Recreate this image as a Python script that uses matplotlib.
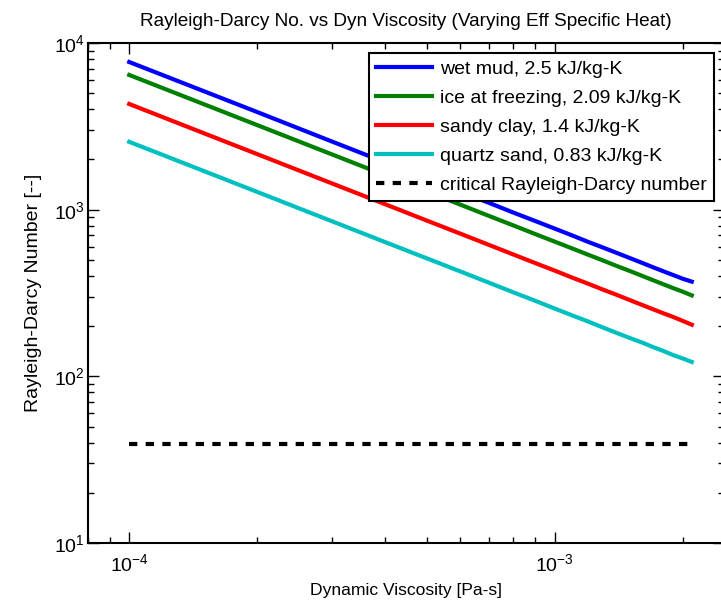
import numpy as np
import matplotlib
matplotlib.use("Agg")
import matplotlib.pyplot as plt

plt.rcParams['font.family'] = ['Liberation Sans', 'DejaVu Sans']
plt.rcParams['mathtext.default'] = 'regular'
plt.rcParams['lines.scale_dashes'] = False

# dynamic viscosity [Pa-s]
mu = [1e-4, 2e-4, 3e-4, 4e-4, 5e-4, 6e-4, 7e-4, 8e-4, 9e-4, 1e-3, 1.1e-3,
      1.2e-3, 1.3e-3, 1.4e-3, 1.5e-3, 1.6e-3, 1.7e-3, 1.8e-3, 1.9e-3, 2e-3, 2.1e-3]

# Rayleigh-Darcy number
ra_wet_mud = [7690, 3850, 2560, 1920, 1540, 1280, 1100, 960, 855, 770, 700,
              640, 592, 550, 513, 481, 452, 427, 405, 385, 370]
ra_ice = [6430, 3215, 2143, 1607, 1286, 1072, 918, 804, 714, 643, 585,
          536, 495, 459, 429, 402, 378, 357, 338, 322, 306]
ra_sandy_clay = [4306, 2153, 1435, 1077, 861, 718, 615, 538, 478, 431, 391,
                 359, 331, 308, 287, 269, 253, 239, 227, 215, 204]
ra_quartz = [2553, 1277, 851, 638, 511, 426, 365, 319, 284, 255, 232,
             213, 196, 182, 170, 160, 150, 142, 134, 128, 122]
mu_crit = [1e-4, 2.1e-3]
ra_crit = [39.48, 39.48]

labels = ['wet mud, 2.5 kJ/kg-K', 'ice at freezing, 2.09 kJ/kg-K',
          'sandy clay, 1.4 kJ/kg-K', 'quartz sand, 0.83 kJ/kg-K',
          'critical Rayleigh-Darcy number']

fig = plt.figure(figsize=(7.21, 6.04), dpi=100)
ax = fig.add_axes([88/721, 61/604, 636/721, 500/604])

ax.loglog(mu, ra_wet_mud, color='b', lw=3, label=labels[0])
ax.loglog(mu, ra_ice, color='g', lw=3, label=labels[1])
ax.loglog(mu, ra_sandy_clay, color='r', lw=3, label=labels[2])
ax.loglog(mu, ra_quartz, color='c', lw=3, label=labels[3])
ax.loglog(mu_crit, ra_crit, color='k', lw=3, linestyle=(0, (6, 6)),
          label=labels[4])

ax.set_xlim(8e-5, 2.5e-3)
ax.set_ylim(10, 1e4)
ax.tick_params(which='both', direction='in', top=True, right=True,
               labelsize=14)
ax.tick_params(axis='x', which='both', pad=7)
ax.tick_params(axis='y', which='both', pad=2)
ax.tick_params(which='major', length=8, width=1)
ax.tick_params(which='minor', length=4, width=1)
for s in ax.spines.values():
    s.set_linewidth(1.5)

ax.set_title('Rayleigh-Darcy No. vs Dyn Viscosity (Varying Eff Specific Heat)',
             fontsize=13.7, pad=12)
ax.set_xlabel('Dynamic Viscosity [Pa-s]', fontsize=12.6, labelpad=6)
ax.set_ylabel('Rayleigh-Darcy Number [--]', fontsize=14, labelpad=9)

leg = ax.legend(loc='upper right', fontsize=14, handlelength=2.85,
                handletextpad=0.4, fancybox=False, framealpha=1,
                edgecolor='k', borderaxespad=0.5, labelspacing=0.58,
                borderpad=0.4)
leg.get_frame().set_linewidth(1.5)

fig.savefig('out.png', dpi=100)
